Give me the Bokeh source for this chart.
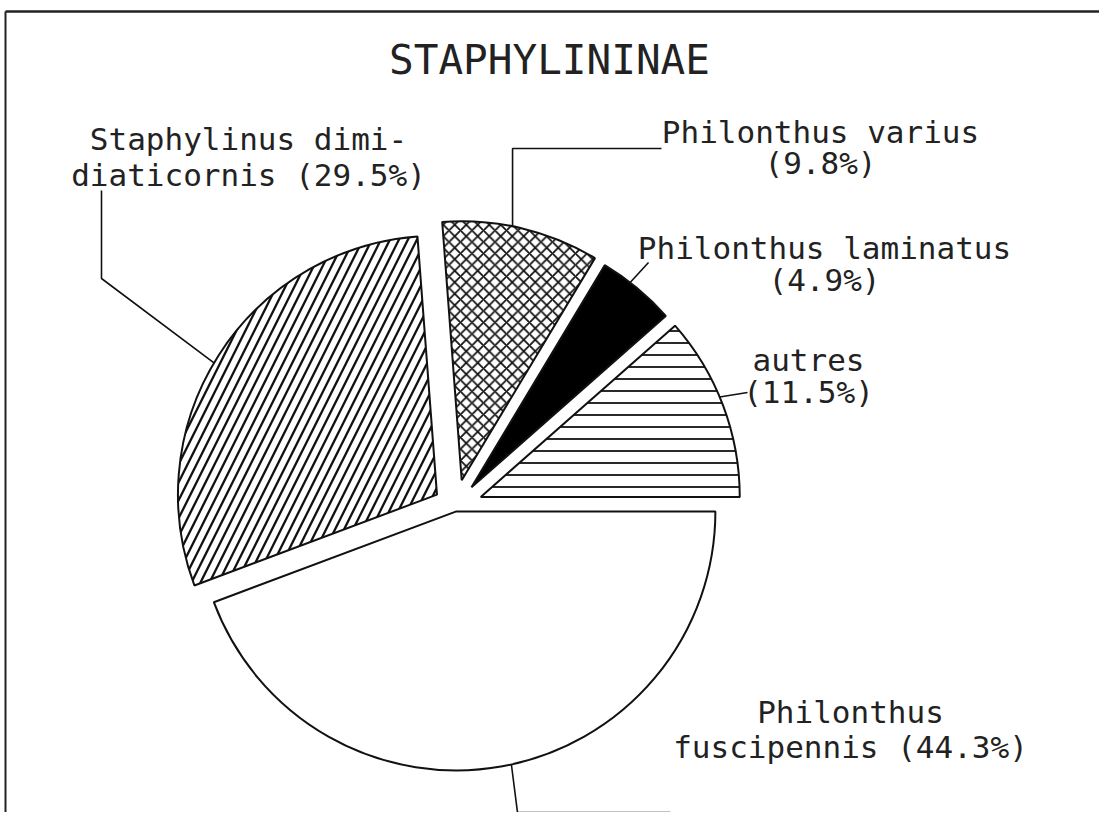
import math
from bokeh.plotting import figure
from bokeh.models import Range1d, ColumnDataSource
from bokeh.embed import file_html
from bokeh.resources import INLINE
from bokeh.core.properties import value

# ---------------- data ----------------
title_text = "STAPHYLININAE"
names = ["autres", "Philonthus laminatus", "Philonthus varius",
         "Staphylinus dimidiaticornis", "Philonthus fuscipennis"]
percents = [11.5, 4.9, 9.8, 29.5, 44.3]
label_line1 = ["autres", "Philonthus laminatus", "Philonthus varius",
               "Staphylinus dimi-", "Philonthus"]
label_line2_prefix = ["", "", "", "diaticornis ", "fuscipennis "]

# ---------------- styles ----------------
fills = ["white", "black", "white", "white", "white"]
hatches = ["-", " ", "x", "/", " "]
hatch_scales = [12, 12, 11.5, 18, 12]
hatch_weights = [1.8, 1.0, 1.8, 2.3, 1.0]
explode = [27, 25, 27, 22, 5]
leader_shift_deg = 2.0

# ---------------- layout (page pixels) ----------------
W, H = 1099, 812
PAGE_H = 828
def sy(y):  # page y -> data y
    return PAGE_H - y

CX, CY = 455, 506
R = 259
FONT = value("DejaVu Sans Mono")

label_pos = [(808, 359, 391), (824, 247, 279), (820, 131, 162),
             (248, 138, 174), (850, 711, 746)]
leader_tail = [
    [(747, 392)],
    [(648, 262)],
    [(None, 148), (661, 148)],
    [(101, 278), (101, 190)],
    [(517, 812), (670, 812)],
]

p = figure(width=W, height=H, x_range=Range1d(0, W), y_range=Range1d(PAGE_H - H, PAGE_H),
           output_backend="svg", toolbar_location=None, min_border=0)
p.axis.visible = False
p.grid.visible = False
p.outline_line_color = None
p.background_fill_color = "white"
p.border_fill_color = "white"

# frame
p.line([5, 5], [sy(11), sy(830)], line_color="#222222", line_width=2)
p.line([5, W], [sy(11), sy(11)], line_color="#222222", line_width=2.5)

# slices
total = sum(percents)
starts, ends, xs, ys, mids = [], [], [], [], []
acc = 0.0
for i, pc in enumerate(percents):
    a0 = acc / total * 2 * math.pi
    acc += pc
    a1 = acc / total * 2 * math.pi
    m = (a0 + a1) / 2
    xs.append(CX + explode[i] * math.cos(m))
    ys.append(sy(CY) + explode[i] * math.sin(m))
    starts.append(a0)
    ends.append(a1)
    mids.append(m)

src = ColumnDataSource(dict(x=xs, y=ys, start=starts, end=ends, fill=fills,
                            hatch=hatches, hscale=hatch_scales, hweight=hatch_weights))
p.wedge(x="x", y="y", radius=R, start_angle="start", end_angle="end", source=src,
        fill_color="fill", hatch_pattern="hatch", hatch_scale="hscale",
        hatch_weight="hweight", hatch_color="#111111",
        line_color="#111111", line_width=2)

# leaders and labels
for i in range(len(percents)):
    a = mids[i] + math.radians(leader_shift_deg)
    ax = xs[i] + R * math.cos(a)
    ay = ys[i] + R * math.sin(a)
    lx, ly = [ax], [ay]
    for (tx, ty) in leader_tail[i]:
        lx.append(ax if tx is None else tx)
        ly.append(sy(ty))
    p.line(lx, ly, line_color="#111111", line_width=1.6)
    cx, b1, b2 = label_pos[i]
    line2 = f"{label_line2_prefix[i]}({percents[i]}%)"
    p.text(x=[cx, cx], y=[sy(b1), sy(b2)], text=[label_line1[i], line2],
           text_align="center", text_baseline="alphabetic", text_font=FONT,
           text_font_size="31px", text_color="#222222")

p.text(x=[549], y=[sy(59)], text=[title_text], text_align="center",
       text_baseline="alphabetic", text_font=FONT, text_font_size="41px",
       text_color="#222222")

open("out.html", "w").write(file_html(p, INLINE))
